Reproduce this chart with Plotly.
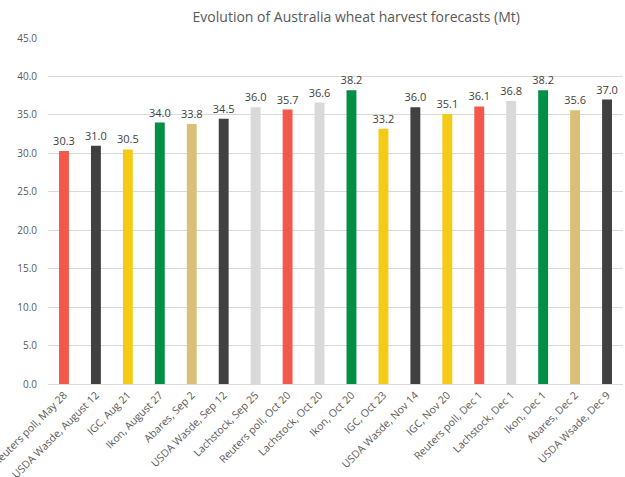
import plotly.graph_objects as go

categories = ["Reuters poll, May 28", "USDA Wasde, August 12", "IGC, Aug 21", "Ikon, August 27",
              "Abares, Sep 2", "USDA Wasde, Sep 12", "Lachstock, Sep 25", "Reuters poll, Oct 20",
              "Lachstock, Oct 20", "Ikon, Oct 20", "IGC, Oct 23", "USDA Wasde, Nov 14",
              "IGC, Nov 20", "Reuters poll, Dec 1", "Lachstock, Dec 1", "Ikon, Dec 1",
              "Abares, Dec 2", "USDA Wsade, Dec 9"]
values = [30.3, 31.0, 30.5, 34.0, 33.8, 34.5, 36.0, 35.7, 36.6, 38.2, 33.2, 36.0, 35.1, 36.1, 36.8, 38.2, 35.6, 37.0]
sources = ["Reuters", "USDA", "IGC", "Ikon", "Abares", "USDA", "Lachstock", "Reuters", "Lachstock",
           "Ikon", "IGC", "USDA", "IGC", "Reuters", "Lachstock", "Ikon", "Abares", "USDA"]
source_colors = {"Reuters": "#F4584B", "USDA": "#404040", "IGC": "#F5CB17", "Ikon": "#008F45",
                 "Abares": "#D9BF77", "Lachstock": "#D9D9D9"}
tick_vals = [0, 5, 10, 15, 20, 25, 30, 35, 40, 45]

fig = go.Figure(go.Bar(
    x=categories, y=values,
    marker=dict(color=[source_colors[s] for s in sources], line=dict(width=0)),
    text=[f"{v:.1f}" for v in values], textposition="outside",
    textfont=dict(family="Open Sans, sans-serif", size=11, color="#404040"),
    constraintext="none",
    cliponaxis=False,
))
fig.update_layout(
    width=625, height=477,
    margin=dict(l=48, r=2, t=38, b=93),
    paper_bgcolor="white", plot_bgcolor="white",
    title=dict(text="Evolution of Australia wheat harvest forecasts (Mt)", x=0.57, xanchor="center",
               y=0.965, yanchor="middle",
               font=dict(family="Open Sans, sans-serif", size=14, color="#595959")),
    bargap=0.69,
    showlegend=False,
    font=dict(family="Open Sans, sans-serif", color="#595959"),
)
fig.update_yaxes(range=[0, 45], tickvals=tick_vals, ticktext=[f"{t:.1f}" for t in tick_vals],
                 gridcolor="#D9D9D9", gridwidth=1, zeroline=False, showline=False,
                 tickfont=dict(size=10, color="#595959"), ticks="outside", ticklen=8,
                 tickcolor="rgba(0,0,0,0)", automargin=False)
fig.update_xaxes(tickangle=-45, tickfont=dict(size=10.5, color="#595959"), showline=True,
                 linecolor="#D9D9D9", linewidth=1, ticks="", showgrid=False, automargin=False)
fig.write_html("out.html")
